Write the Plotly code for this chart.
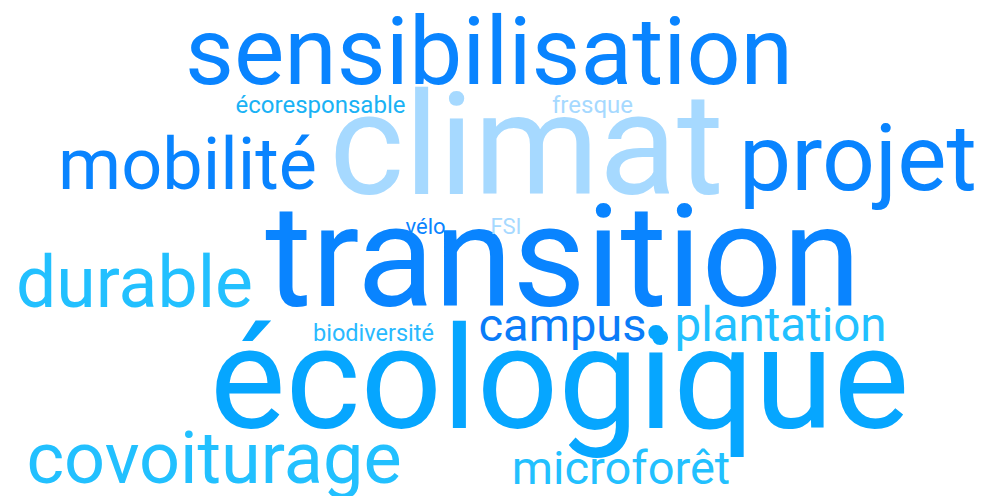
import plotly.graph_objects as go

# Data: words and their weights (font size in px, proportional to frequency)
words = ["climat", "transition", "écologique", "sensibilisation", "projet",
         "mobilité", "durable", "covoiturage", "campus", "plantation",
         "microforêt", "écoresponsable", "fresque", "vélo", "FSI",
         "biodiversité", "."]
weights = [143, 142, 143, 95, 93, 72, 71.5, 72, 47, 47.5, 47, 24, 24, 22, 22, 23.5, 140]

# Layout of the cloud (centre x, baseline y in pixels) and colours
pos_x = [518.5, 555, 551.5, 481, 850, 179.5, 126.5, 206, 554.5, 772.5, 613,
         312.5, 584.5, 417.5, 498, 365.5, 653]
base_y = [200, 312, 434, 85, 191, 188, 306, 482, 338, 338, 481, 107, 107, 228, 228, 335, 350]
colors = ["#a6d9ff", "#0984ff", "#06a6ff", "#0984ff", "#0984ff",
          "#0984ff", "#22c0ff", "#22c0ff", "#0a7cf8", "#22c0ff",
          "#22c0ff", "#1ab2f5", "#a6d9ff", "#0a84ff", "#a6d9ff",
          "#29b9ff", "#06a6ff"]

W, H = 982, 496
MID_SHIFT = 0.35
y_center = [b - MID_SHIFT * s for b, s in zip(base_y, weights)]

fig = go.Figure()
for w, s, x, y, c in zip(words, weights, pos_x, y_center, colors):
    fig.add_trace(go.Scatter(
        x=[x], y=[y], mode="text", text=[w],
        textposition="middle center",
        textfont=dict(family="Roboto", size=s, color=c),
        hoverinfo="text", showlegend=False,
    ))

fig.update_layout(
    width=W, height=H,
    margin=dict(l=0, r=0, t=0, b=0),
    paper_bgcolor="white", plot_bgcolor="white",
    xaxis=dict(range=[0, W], visible=False, fixedrange=True),
    yaxis=dict(range=[H, 0], visible=False, fixedrange=True),
)
fig.write_html("out.html")
